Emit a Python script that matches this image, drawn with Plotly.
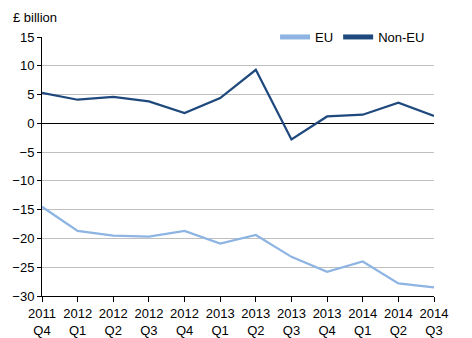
import plotly.graph_objects as go

quarters = ["2011<br>Q4", "2012<br>Q1", "2012<br>Q2", "2012<br>Q3", "2012<br>Q4", "2013<br>Q1",
            "2013<br>Q2", "2013<br>Q3", "2013<br>Q4", "2014<br>Q1", "2014<br>Q2", "2014<br>Q3"]
eu = [-14.5, -18.7, -19.5, -19.7, -18.7, -20.9, -19.4, -23.2, -25.8, -24.0, -27.8, -28.5]
non_eu = [5.3, 4.1, 4.6, 3.8, 1.8, 4.4, 9.3, -2.8, 1.2, 1.5, 3.6, 1.3]
y_ticks = [15, 10, 5, 0, -5, -10, -15, -20, -25, -30]

x = list(range(len(quarters)))
font = dict(family="Liberation Sans, Arial, sans-serif", size=13, color="#000000")

fig = go.Figure()
fig.add_trace(go.Scatter(x=x, y=eu, mode="lines", name="EU",
                         line=dict(color="#8DB4E2", width=2.25)))
fig.add_trace(go.Scatter(x=x, y=non_eu, mode="lines", name="Non-EU",
                         line=dict(color="#1F497D", width=2.25)))

fig.update_layout(
    width=472, height=338,
    margin=dict(l=42, r=38, t=37, b=42, autoexpand=False),
    plot_bgcolor="white", paper_bgcolor="white",
    font=font,
    showlegend=True,
    legend=dict(orientation="h", x=0.99, xanchor="right", y=1.0, yanchor="middle",
                bgcolor="white", itemwidth=30, font=font,
                tracegroupgap=0, itemsizing="constant"),
    annotations=[dict(text="£ billion", x=-0.078, y=1.075, xref="paper", yref="paper",
                      xanchor="left", yanchor="middle", showarrow=False, font=font)],
)

fig.update_xaxes(range=[0, 11], tickvals=x, ticktext=quarters, showgrid=False,
                 showline=True, linecolor="black", linewidth=1, automargin=False,
                 ticks="outside", ticklen=5, tickcolor="black", zeroline=False,
                 tickfont=font)
fig.update_yaxes(range=[-30, 15], tickvals=y_ticks, showgrid=True, gridcolor="#BFBFBF",
                 gridwidth=1, showline=True, linecolor="black", linewidth=1, automargin=False,
                 ticks="outside", ticklen=4, tickcolor="black",
                 zeroline=True, zerolinecolor="black", zerolinewidth=1,
                 tickfont=font)

fig.write_html("out.html")
